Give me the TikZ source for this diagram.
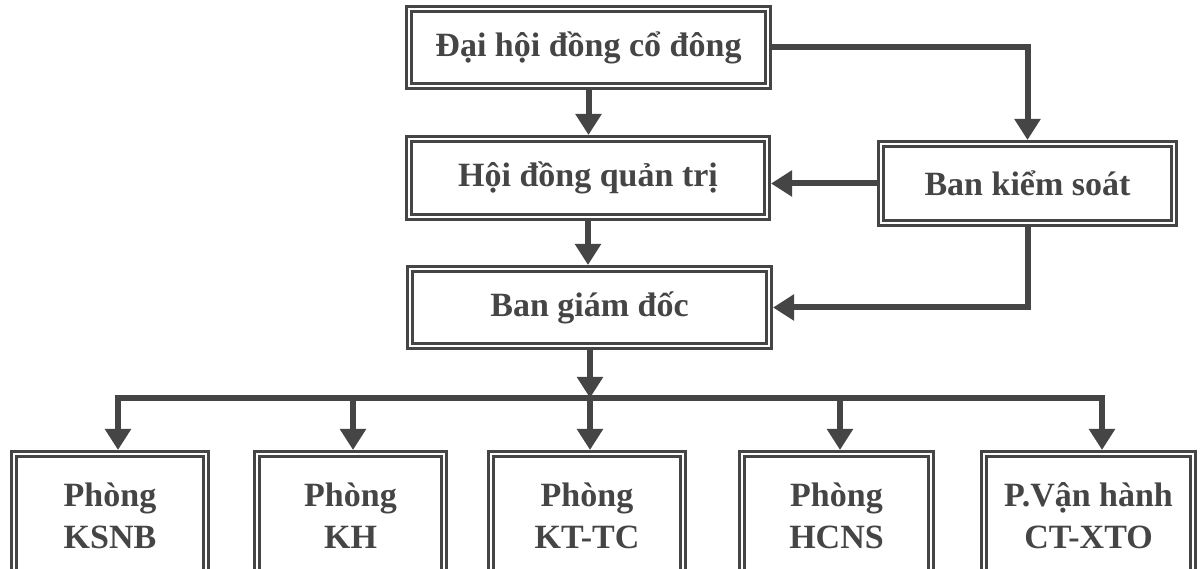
\documentclass[tikz,border=0pt]{standalone}
\usepackage{fontspec}
\setmainfont{Liberation Serif}
\usetikzlibrary{arrows.meta}
\definecolor{ink}{HTML}{454545}
\begin{document}
\begin{tikzpicture}[x=1pt,y=-1pt,
  box/.style={draw=ink, double=white, double distance=2.6pt, line width=2.8pt,
    inner sep=0pt, outer sep=4pt, text=ink,
    font=\fontsize{34}{42}\selectfont\bfseries, align=center},
  conn/.style={draw=ink, line width=6pt},
  arr/.style={conn, -{Triangle[width=25pt,length=21pt]}}]
\useasboundingbox (0,0) rectangle (1203,569);
\clip (0,0) rectangle (1203,569);
\fill[white] (0,0) rectangle (1203,569);
% top level nodes
\node[box, minimum width=359pt, minimum height=77pt] (dh) at (588.5,47.5) {Đại hội đồng cổ đông};
\node[box, minimum width=358pt, minimum height=78pt] (hd) at (588,178) {Hội đồng quản trị};
\node[box, minimum width=359pt, minimum height=77pt] (bg) at (589.5,307.5) {Ban giám đốc};
\node[box, minimum width=293pt, minimum height=79pt] (bk) at (1027.5,183.5) {Ban kiểm soát};
% bottom nodes
\node[box, minimum width=192pt, minimum height=124pt] (p1) at (110,516) {Phòng\\KSNB};
\node[box, minimum width=187pt, minimum height=124pt] (p2) at (350.5,516) {Phòng\\KH};
\node[box, minimum width=192pt, minimum height=124pt] (p3) at (587,516) {Phòng\\KT-TC};
\node[box, minimum width=189pt, minimum height=124pt] (p4) at (836.5,516) {Phòng\\HCNS};
\node[box, minimum width=209pt, minimum height=124pt] (p5) at (1088.5,516) {P.Vận hành\\CT-XTO};
% bus coordinates
\coordinate (bc) at (590,398);
\coordinate (b1) at (118,398);
\coordinate (b2) at (353,398);
\coordinate (b4) at (840,398);
\coordinate (b5) at (1102,398);
% connectors
\draw[arr] (dh.south) -- (dh.south |- hd.north);
\draw[arr] (hd.south) -- (hd.south |- bg.north);
\draw[arr] (dh.east) -| (bk.north);
\draw[arr] (bk.west) -- (bk.west -| hd.east);
\draw[arr] (bk.south) |- (bg.east);
\draw[arr] (bg.south -| bc) -- (bc);
\draw[arr] (bc) -| (b1 |- p1.north);
\draw[arr] (bc) -| (b5 |- p5.north);
\draw[arr] (b2) -- (b2 |- p2.north);
\draw[arr] (bc) -- (bc |- p3.north);
\draw[arr] (b4) -- (b4 |- p4.north);
\end{tikzpicture}
\end{document}
